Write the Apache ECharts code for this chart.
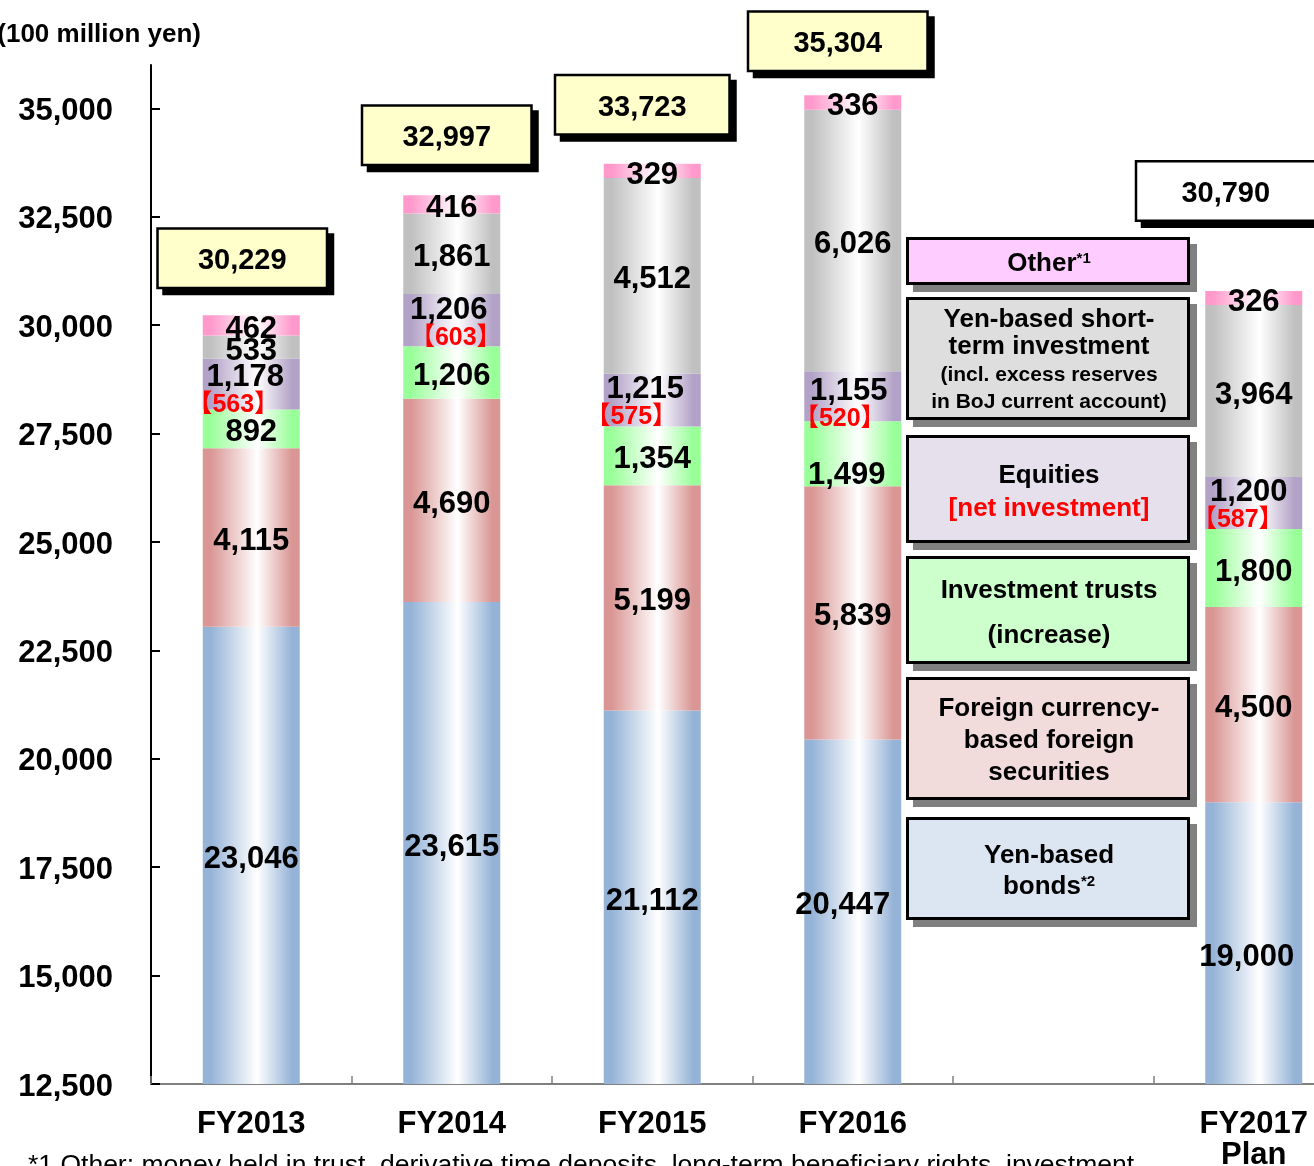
<!DOCTYPE html>
<html>
<head>
<meta charset="utf-8">
<script src="https://cdn.jsdelivr.net/npm/echarts@6/dist/echarts.min.js"></script>
<style>
  html, body { margin: 0; padding: 0; background: #ffffff; overflow: hidden; }
  #chart { width: 1314px; height: 1166px; }
</style>
</head>
<body>
<div id="chart"></div>
<script>
// Fiscal years on the category axis
const fiscalYears = ['FY2013', 'FY2014', 'FY2015', 'FY2016', 'FY2017\nPlan'];

// Balance by asset class (100 million yen)
const yenBonds = [23046, 23615, 21112, 20447, 19000];
const foreignSecurities = [4115, 4690, 5199, 5839, 4500];
const investmentTrusts = [892, 1206, 1354, 1499, 1800];
const equities = [1178, 1206, 1215, 1155, 1200];
const equitiesNetInvestment = [563, 603, 575, 520, 587];
const yenShortTerm = [533, 1861, 4512, 6026, 3964];
const other = [462, 416, 329, 336, 326];
const totals = [30229, 32997, 33723, 35304, 30790];

// Value-axis ticks
const yTicks = [12500, 15000, 17500, 20000, 22500, 25000, 27500, 30000, 32500, 35000];

const FONT = "'Liberation Sans', Arial, 'Noto Sans CJK JP', sans-serif";
const fmt = v => Number(v).toLocaleString('en-US');

// One empty category slot (before the plan year) holds the legend panel
const GAP_AT = 4;
const axisCategories = [...fiscalYears.slice(0, GAP_AT), '', ...fiscalYears.slice(GAP_AT)];
const withGap = arr => [...arr.slice(0, GAP_AT), '-', ...arr.slice(GAP_AT)];
const yearOf = axisIndex => (axisIndex < GAP_AT ? axisIndex : axisIndex - 1);
const slotOf = year => (year < GAP_AT ? year : year + 1);

// Horizontal "cylinder" shading of the bars
const barFill = c => new echarts.graphic.LinearGradient(0, 0, 1, 0, [
  { offset: 0, color: c },
  { offset: 0.08, color: c },
  { offset: 0.56, color: '#ffffff' },
  { offset: 0.92, color: c },
  { offset: 1, color: c }
]);

// Value labels sit slightly below the segment centre
const LABEL_DROP = 4;
// Extra nudges where values sit off-centre in their segment
const labelNudge = {
  yenBonds: { 3: [-10, -10], 4: [-7, 10] },
  investmentTrusts: { 3: [-6, 18] },
  equities: { 0: [-6, 3], 1: [-3, 0], 2: [-7, -1], 3: [-4, 5], 4: [-5, -1] }
};
// Horizontal shift of the red bracketed line relative to the first line
const netShift = [-12, 7, -14, -9, -11];

function stackSeries(key, name, values, color) {
  const nudges = labelNudge[key] || {};
  const items = values.map((v, j) => {
    const n = nudges[j] || [0, 0];
    return { value: v, label: { offset: [n[0], n[1] + LABEL_DROP] } };
  });
  return {
    name: name,
    type: 'bar',
    stack: 'balance',
    barWidth: 97,
    clip: true,
    data: withGap(items),
    itemStyle: { color: barFill(color) },
    label: {
      show: true,
      position: 'inside',
      color: '#000000',
      fontFamily: FONT,
      fontWeight: 'bold',
      fontSize: 31,
      lineHeight: 28,
      formatter: p => fmt(p.value)
    },
    emphasis: { disabled: true },
    z: 2
  };
}

const series = [
  stackSeries('yenBonds', 'Yen-based bonds', yenBonds, '#95b3d7'),
  stackSeries('foreignSecurities', 'Foreign currency-based foreign securities', foreignSecurities, '#d99694'),
  stackSeries('investmentTrusts', 'Investment trusts (increase)', investmentTrusts, '#99ff99'),
  stackSeries('equities', 'Equities [net investment]', equities, '#b3a2c7'),
  stackSeries('yenShortTerm', 'Yen-based short-term investment', yenShortTerm, '#c0c0c0'),
  stackSeries('other', 'Other', other, '#ff99cc')
];

// Equities show the net investment as a red bracketed second line
const netRich = {};
netShift.forEach((s, j) => {
  netRich['net' + j] = {
    color: '#ff0000',
    fontFamily: FONT,
    fontWeight: 'bold',
    fontSize: 25,
    lineHeight: 28,
    padding: s < 0 ? [0, -2 * s, 0, 0] : [0, 0, 0, 2 * s]
  };
});
series[3].label.formatter = p => {
  const j = yearOf(p.dataIndex);
  return fmt(p.value) + '\n{net' + j + '|【' + fmt(equitiesNetInvestment[j]) + '】}';
};
series[3].label.rich = netRich;

// Total boxes above each bar, placed from the total value on the axis
const boxShift = [[-9, -57], [-5, -60], [-10, -59], [-15, -54], [-28, -100]];
const boxWidth = [172, 172, 177, 182, 182];
const BOX_H = 62;
series.push({
  name: 'Total',
  type: 'custom',
  z: 10,
  clip: false,
  data: totals.map((t, j) => [slotOf(j), t]),
  renderItem: (params, api) => {
    const j = params.dataIndex;
    const pt = api.coord([api.value(0), api.value(1)]);
    const w = boxWidth[j];
    const cx = pt[0] + boxShift[j][0];
    const cy = pt[1] + boxShift[j][1];
    const x0 = cx - w / 2;
    const y0 = cy - BOX_H / 2;
    return {
      type: 'group',
      children: [
        { type: 'rect', shape: { x: x0 + 6, y: y0 + 6, width: w, height: BOX_H }, style: { fill: '#000000' } },
        {
          type: 'rect',
          shape: { x: x0 + 1.25, y: y0 + 1.25, width: w - 2.5, height: BOX_H - 2.5 },
          style: { fill: j === totals.length - 1 ? '#ffffff' : '#ffffcc', stroke: '#000000', lineWidth: 2.5 }
        },
        {
          type: 'text', x: cx, y: cy + 3,
          style: {
            text: fmt(api.value(1)), fill: '#000000',
            fontFamily: FONT, fontWeight: 'bold', fontSize: 29,
            align: 'center', verticalAlign: 'middle'
          }
        }
      ]
    };
  }
});

// Legend panel drawn in the empty slot
const legendBoxes = [
  { top: 237, bottom: 285, fill: '#ffccff', lines: [['Other{sup|*1}', 264, 26]] },
  { top: 297, bottom: 420, fill: '#dedede', lines: [
    ['Yen-based short-', 320, 26], ['term investment', 347, 26],
    ['(incl. excess reserves', 375, 21], ['in BoJ current account)', 402, 21]] },
  { top: 435, bottom: 543, fill: '#e6e0ec', lines: [
    ['Equities', 476, 26], ['[net investment]', 509, 26, '#ff0000']] },
  { top: 556, bottom: 664, fill: '#ccffcc', lines: [
    ['Investment trusts', 591, 26], ['(increase)', 636, 26]] },
  { top: 677, bottom: 800, fill: '#f2dcdb', lines: [
    ['Foreign currency-', 709, 26], ['based foreign', 741, 26], ['securities', 773, 26]] },
  { top: 817, bottom: 920, fill: '#dce6f2', lines: [
    ['Yen-based', 856, 26], ['bonds{sup|*2}', 887, 26]] }
];

const graphics = [];
legendBoxes.forEach(b => {
  const h = b.bottom - b.top;
  graphics.push({
    type: 'rect', z: 20,
    shape: { x: 913, y: b.top + 7, width: 284, height: h },
    style: { fill: '#808080' }
  });
  graphics.push({
    type: 'rect', z: 20,
    shape: { x: 907.5, y: b.top + 1.5, width: 281, height: h - 3 },
    style: { fill: b.fill, stroke: '#000000', lineWidth: 3 }
  });
  b.lines.forEach(([t, y, size, color]) => {
    graphics.push({
      type: 'text', z: 21, x: 1049, y: y,
      style: {
        text: t,
        fill: color || '#000000',
        fontSize: size,
        fontWeight: 'bold',
        fontFamily: FONT,
        align: 'center',
        verticalAlign: 'middle',
        lineHeight: size,
        rich: {
          sup: { fontSize: 15, fontWeight: 'bold', fontFamily: FONT, fill: '#000000', verticalAlign: 'top', lineHeight: 15 }
        }
      }
    });
  });
});

// Unit caption
graphics.push({
  type: 'text', z: 21, x: 201, y: 35,
  style: {
    text: '(100 million yen)', fill: '#000000',
    fontSize: 26, fontWeight: 'bold', fontFamily: FONT,
    align: 'right', verticalAlign: 'middle'
  }
});
// Footnote
graphics.push({
  type: 'text', z: 21, x: 28, y: 1166,
  style: {
    text: '*1 Other: money held in trust, derivative time deposits, long-term beneficiary rights, investment',
    fill: '#000000', fontSize: 26.5, fontWeight: 'normal', fontFamily: FONT,
    align: 'left', verticalAlign: 'middle'
  }
});

const chart = echarts.init(document.getElementById('chart'), null, { renderer: 'canvas' });
chart.setOption({
  animation: false,
  backgroundColor: '#ffffff',
  grid: { left: 151, top: 65, width: 1203, height: 1019, containLabel: false, outerBoundsMode: 'none' },
  xAxis: {
    type: 'category',
    data: axisCategories,
    axisLine: { show: true, onZero: false, lineStyle: { color: '#808080', width: 2 } },
    axisTick: { show: true, inside: true, length: 8, lineStyle: { color: '#808080', width: 1.5 } },
    axisLabel: {
      interval: 0, margin: 25, color: '#000000',
      fontFamily: FONT, fontWeight: 'bold', fontSize: 31, lineHeight: 31
    },
    splitLine: { show: false }
  },
  yAxis: {
    type: 'value',
    min: 12500,
    max: 36000,
    startValue: 12500,
    splitLine: { show: false },
    axisLine: { show: true, lineStyle: { color: '#000000', width: 2 } },
    axisTick: { show: true, inside: true, length: 9, customValues: yTicks, lineStyle: { color: '#000000', width: 2 } },
    axisLabel: {
      customValues: yTicks,
      formatter: v => '{v|' + fmt(v) + '}',
      margin: 38,
      rich: {
        v: {
          color: '#000000', fontFamily: FONT, fontWeight: 'bold', fontSize: 31,
          padding: [6, 0, 0, 0]
        }
      }
    }
  },
  series: series,
  graphic: { elements: graphics }
});
</script>
</body>
</html>
